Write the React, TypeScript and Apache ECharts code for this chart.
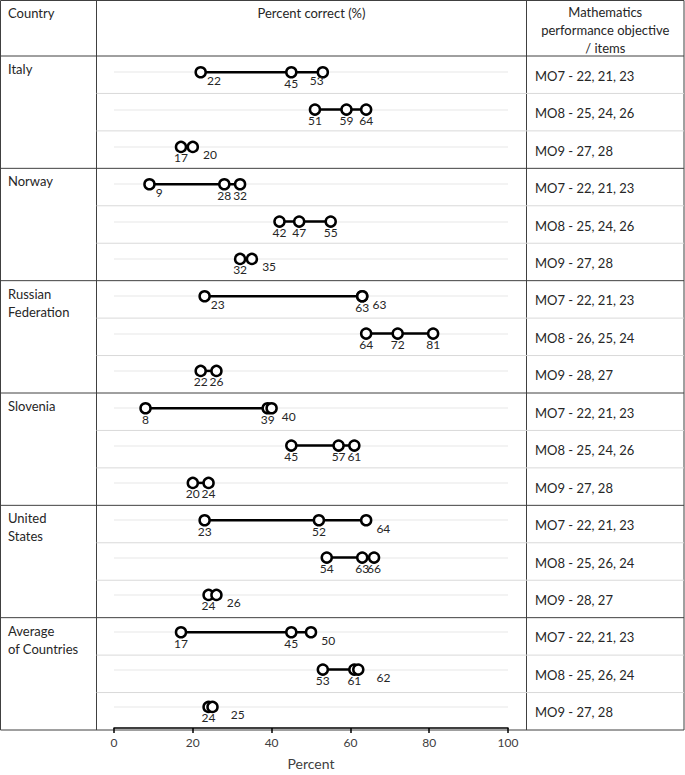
import React, { useEffect, useRef } from "react";
import * as echarts from "echarts";

// ---------- data ----------
const countries = ["Italy", "Norway", "Russian\nFederation", "Slovenia", "United\nStates", "Average\nof Countries"];

const itemLabels = [
  ["MO7 - 22, 21, 23", "MO8 - 25, 24, 26", "MO9 - 27, 28"],
  ["MO7 - 22, 21, 23", "MO8 - 25, 24, 26", "MO9 - 27, 28"],
  ["MO7 - 22, 21, 23", "MO8 - 26, 25, 24", "MO9 - 28, 27"],
  ["MO7 - 22, 21, 23", "MO8 - 25, 24, 26", "MO9 - 27, 28"],
  ["MO7 - 22, 21, 23", "MO8 - 25, 26, 24", "MO9 - 28, 27"],
  ["MO7 - 22, 21, 23", "MO8 - 25, 26, 24", "MO9 - 27, 28"],
];

const italy = [[22, 45, 53], [51, 59, 64], [17, 20]];
const norway = [[9, 28, 32], [42, 47, 55], [32, 35]];
const russia = [[23, 63, 63], [64, 72, 81], [22, 26]];
const slovenia = [[8, 39, 40], [45, 57, 61], [20, 24]];
const unitedStates = [[23, 52, 64], [54, 63, 66], [24, 26]];
const average = [[17, 45, 50], [53, 61, 62], [24, 25]];
const countryValues = [italy, norway, russia, slovenia, unitedStates, average];

// label placement style codes (b = below, bl = below-left, r/rc/rf = right)
const labelModes = [
  [["rc", "b", "bl"], ["b", "b", "b"], ["b", "r"]],
  [["rc", "b", "b"], ["b", "b", "b"], ["b", "r"]],
  [["rc", "b", "r"], ["b", "b", "b"], ["b", "b"]],
  [["b", "b", "r"], ["b", "b", "b"], ["b", "b"]],
  [["b", "b", "r"], ["b", "b", "b"], ["b", "r"]],
  [["b", "b", "r"], ["b", "b", "rf"], ["b", "rf"]],
];

const xTicks = { min: 0, max: 100, interval: 20 };

// ---------- layout ----------
const FONT = "Lato, 'Noto Sans', sans-serif";
const TXT = "#262626";
const BORDER = "#404040";
const TOP = 0.5;
const HEADER = 56;
const BOTTOM = 730;
const LEFT = 0.5;
const RIGHT = 684;
const COL1 = 96.5;
const COL2 = 526.5;
const NROWS = 18;
const ROWH = (BOTTOM - HEADER) / NROWS;
const DOT_POS = 0.435; // dot line position inside each row (fraction of row)

function labelFor(mode: string) {
  const base = { show: true, fontFamily: FONT, fontSize: 12, color: TXT };
  if (mode === "b") return { ...base, position: "inside", offset: [0, 11] };
  if (mode === "bl") return { ...base, position: "inside", offset: [-6, 8] };
  if (mode === "rc") return { ...base, position: "right", distance: 0, offset: [0, 8] };
  if (mode === "rf") return { ...base, position: "right", distance: 12, offset: [0, 8] };
  return { ...base, position: "right", distance: 4, offset: [0, 8] };
}

export default function App() {
  const ref = useRef<HTMLDivElement>(null);
  useEffect(() => {
    if (!ref.current) return;
    const chart = echarts.init(ref.current, undefined, { renderer: "svg" });

    const series: any[] = [];
    const guideData: any[] = [];
    const graphics: any[] = [];

    // table frame
    graphics.push({
      type: "rect",
      shape: { x: LEFT, y: TOP, width: RIGHT - LEFT, height: BOTTOM - TOP },
      style: { fill: "none", stroke: BORDER, lineWidth: 1 },
      silent: true,
    });
    const vline = (x: number) => ({
      type: "line",
      shape: { x1: x, y1: TOP, x2: x, y2: BOTTOM },
      style: { stroke: BORDER, lineWidth: 1 },
      silent: true,
    });
    graphics.push(vline(COL1), vline(COL2));
    const hline = (y: number, x1: number, color: string) => ({
      type: "line",
      shape: { x1, y1: y, x2: RIGHT, y2: y },
      style: { stroke: color, lineWidth: 1 },
      silent: true,
    });
    graphics.push(hline(HEADER, LEFT, BORDER));

    // header texts
    graphics.push({
      type: "text",
      x: 8,
      y: 13,
      style: { text: "Country", fontFamily: FONT, fontSize: 13, fill: TXT, verticalAlign: "middle" },
    });
    graphics.push({
      type: "text",
      x: (COL1 + COL2) / 2,
      y: 13,
      style: { text: "Percent correct (%)", fontFamily: FONT, fontSize: 13, fill: TXT, align: "center", verticalAlign: "middle" },
    });
    graphics.push({
      type: "text",
      x: (COL2 + RIGHT) / 2,
      y: 30,
      style: {
        text: "Mathematics\nperformance objective\n/ items",
        fontFamily: FONT,
        fontSize: 13,
        lineHeight: 18,
        fill: TXT,
        align: "center",
        verticalAlign: "middle",
      },
    });

    countries.forEach((name, c) => {
      const gTop = HEADER + c * 3 * ROWH;
      if (c > 0) graphics.push(hline(gTop, LEFT, BORDER));
      graphics.push({
        type: "text",
        x: 8,
        y: gTop + 4,
        style: { text: name, fontFamily: FONT, fontSize: 13, lineHeight: 18, fill: TXT, verticalAlign: "top" },
      });
      countryValues[c].forEach((vals, k) => {
        const r = c * 3 + k;
        const rTop = HEADER + r * ROWH;
        if (k > 0) graphics.push(hline(rTop, COL1, "#d9d9d9"));
        graphics.push({
          type: "text",
          x: 535,
          y: rTop + ROWH / 2 + 1,
          style: { text: itemLabels[c][k], fontFamily: FONT, fontSize: 13, fill: TXT, verticalAlign: "middle" },
        });
        const y = r + DOT_POS;
        guideData.push({ coords: [[xTicks.min, y], [xTicks.max, y]] });
        const pts = vals.map((v, i) => ({ v, m: labelModes[c][k][i] }));
        series.push({
          type: "line",
          name: `${countries[c]} ${itemLabels[c][k]}`,
          data: pts.map((d) => ({ value: [d.v, y], label: labelFor(d.m) })),
          symbol: "circle",
          symbolSize: 10,
          itemStyle: { color: "#ffffff", borderColor: "#000000", borderWidth: 2.5 },
          lineStyle: { color: "#000000", width: 2.5 },
          label: { show: true, formatter: (p: any) => String(p.value[0]) },
          z: 3,
          silent: true,
        });
      });
    });

    series.unshift({
      type: "lines",
      coordinateSystem: "cartesian2d",
      data: guideData,
      lineStyle: { color: "#efefef", width: 1.5, opacity: 1 },
      z: 1,
      silent: true,
    });

    chart.setOption({
      animation: false,
      backgroundColor: "#ffffff",
      grid: { left: 114, right: 685 - 508, top: HEADER, bottom: 775 - BOTTOM },
      xAxis: {
        type: "value",
        position: "bottom",
        min: xTicks.min,
        max: xTicks.max,
        interval: xTicks.interval,
        axisLine: { show: true, onZero: false, lineStyle: { color: "#000000", width: 1.5 } },
        axisTick: { show: true, length: 5, lineStyle: { color: "#000000", width: 1.5 } },
        axisLabel: { fontFamily: FONT, fontSize: 12, color: "#404040", margin: 8 },
        splitLine: { show: false },
        name: "Percent",
        nameLocation: "middle",
        nameGap: 28,
        nameTextStyle: { fontFamily: FONT, fontSize: 14, color: "#404040" },
      },
      yAxis: { type: "value", min: 0, max: NROWS, inverse: true, show: false },
      graphic: graphics,
      series,
    });
    return () => chart.dispose();
  }, []);
  return (
    <div
      ref={ref}
      style={{ position: "fixed", left: 0, top: 0, width: 685, height: 775, background: "#fff" }}
    />
  );
}
